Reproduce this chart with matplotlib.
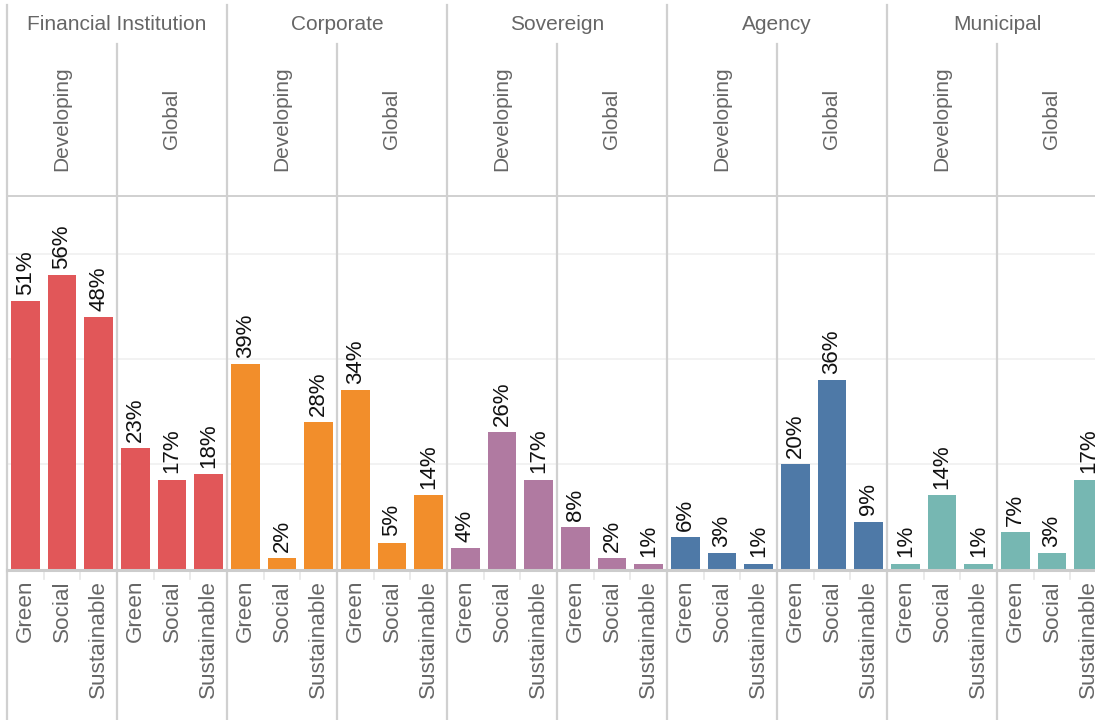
import matplotlib.pyplot as plt
from matplotlib.lines import Line2D

plt.rcParams['font.family'] = ['Liberation Sans', 'DejaVu Sans']

# chart data
issuers = ['Financial Institution', 'Corporate', 'Sovereign', 'Agency', 'Municipal']
markets = ['Developing', 'Global']
bond_types = ['Green', 'Social', 'Sustainable']
colors = ['#e15759', '#f28e2b', '#b07aa1', '#4e79a7', '#76b7b2']

# share per issuer, [developing, global] x [green, social, sustainable]
fin_inst = [[51, 56, 48], [23, 17, 18]]
corporate = [[39, 2, 28], [34, 5, 14]]
sovereign = [[4, 26, 17], [8, 2, 1]]
agency = [[6, 3, 1], [20, 36, 9]]
municipal = [[1, 14, 1], [7, 3, 17]]
all_values = [fin_inst, corporate, sovereign, agency, municipal]

W, H = 1095, 720
fig = plt.figure(figsize=(W / 100, H / 100), dpi=100)

# plot area in pixels: left 7, top 196, baseline 569, 10 panels of 110 px
left_px, top_px, base_px, panel_px = 7, 196, 569, 110
n_cat = len(issuers) * len(markets) * len(bond_types)
ax = fig.add_axes([left_px / W, (H - base_px) / H,
                   panel_px * 10 / W, (base_px - top_px) / H])
ax.set_xlim(-0.5, n_cat - 0.5)
ax.set_ylim(0, 71)
ax.axis('off')

def px_to_axy(y_px):
    return (base_px - y_px) / (base_px - top_px)

xt = ax.get_xaxis_transform()
line_col = '#d0d0d0'
grey_txt = '#666666'

# light gridlines
for g in [20, 40, 60]:
    ax.axhline(g, color='#f0f0f0', lw=1.2, zorder=0)

# bars and value labels
pos = 0
for gi, issuer in enumerate(issuers):
    for mi, market in enumerate(markets):
        vals = all_values[gi][mi]
        xs = list(range(pos, pos + len(vals)))
        ax.bar(xs, vals, width=0.79, color=colors[gi], zorder=2)
        for j, (x, v) in enumerate(zip(xs, vals)):
            ax.annotate(f'{v}%', (x, v), xytext=(0, 4.5), textcoords='offset points',
                        rotation=90, ha='center', va='bottom', fontsize=16,
                        color='#111111', annotation_clip=False)
            ax.text(x, px_to_axy(580), bond_types[j], transform=xt,
                    rotation=90, ha='center', va='top', fontsize=16.2, color=grey_txt,
                    clip_on=False)
        # small ticks between categories
        for b in [pos + 0.5, pos + 1.5]:
            ax.add_line(Line2D([b, b], [px_to_axy(572), px_to_axy(579)], transform=xt,
                               color='#e6e6e6', lw=1.2, clip_on=False))
        # market sub header
        ax.text(pos + 1, px_to_axy(119), market, transform=xt, rotation=90,
                ha='center', va='center', fontsize=15, color=grey_txt, clip_on=False)
        pos += len(vals)
    # issuer header
    ax.text(gi * 6 + 2.5, px_to_axy(24), issuer, transform=xt, ha='center',
            va='center', fontsize=15, color=grey_txt, clip_on=False)

# separators
for k in range(len(issuers) + 1):
    x = k * 6 - 0.5
    ax.add_line(Line2D([x, x], [px_to_axy(5), px_to_axy(725)], transform=xt,
                       color=line_col, lw=1.6, clip_on=False))
for k in range(len(issuers)):
    x = k * 6 + 2.5
    ax.add_line(Line2D([x, x], [px_to_axy(44), px_to_axy(725)], transform=xt,
                       color=line_col, lw=1.6, clip_on=False))

# top of plot area and zero line
ax.add_line(Line2D([-0.5, n_cat - 0.5], [1, 1], transform=xt, color=line_col,
                   lw=1.4, clip_on=False))
ax.add_line(Line2D([-0.5, n_cat - 0.5], [px_to_axy(570)] * 2, transform=xt,
                   color='#cccccc', lw=2.2, clip_on=False, zorder=3))

fig.savefig('out.png', dpi=100)
